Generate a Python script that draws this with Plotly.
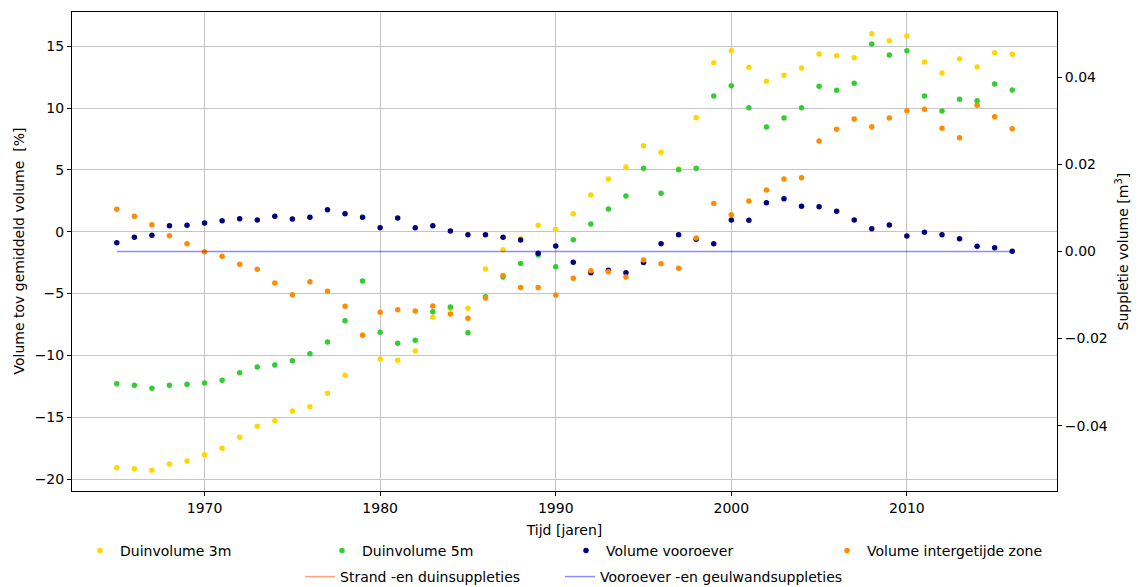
import plotly.graph_objects as go

years = [1965, 1966, 1967, 1968, 1969, 1970, 1971, 1972, 1973, 1974, 1975, 1976, 1977,
         1978, 1979, 1980, 1981, 1982, 1983, 1984, 1985, 1986, 1987, 1988, 1989, 1990,
         1991, 1992, 1993, 1994, 1995, 1996, 1997, 1998, 1999, 2000, 2001, 2002, 2003,
         2004, 2005, 2006, 2007, 2008, 2009, 2010, 2011, 2012, 2013, 2014, 2015, 2016]

duinvolume_3m = [-19.08, -19.16, -19.29, -18.78, -18.54, -18.03, -17.51, -16.62, -15.73, -15.28,
                 -14.49, -14.15, -13.06, -11.60, -8.35, -10.29, -10.40, -9.64, -6.92, -6.20,
                 -6.19, -3.02, -1.45, -0.54, 0.52, 0.19, 1.46, 2.97, 4.26, 5.23,
                 6.95, 6.42, 5.07, 9.22, 13.66, 14.63, 13.29, 12.16, 12.64, 13.23,
                 14.37, 14.23, 14.07, 16.01, 15.44, 15.82, 13.72, 12.83, 13.96, 13.31,
                 14.47, 14.34]

duinvolume_5m = [-12.29, -12.42, -12.66, -12.42, -12.34, -12.23, -12.01, -11.40, -10.94, -10.78,
                 -10.43, -9.86, -8.92, -7.19, -3.99, -8.13, -9.02, -8.78, -6.47, -6.09,
                 -8.16, -5.25, -3.66, -2.56, -1.88, -2.83, -0.65, 0.62, 1.84, 2.89,
                 5.12, 3.10, 5.00, 5.12, 10.97, 11.80, 10.02, 8.46, 9.19, 10.02,
                 11.75, 11.43, 12.00, 15.17, 14.28, 14.63, 10.97, 9.76, 10.70, 10.59,
                 11.94, 11.46]

volume_vooroever = [-0.89, -0.45, -0.29, 0.49, 0.52, 0.70, 0.89, 1.05, 0.95, 1.24,
                    1.03, 1.16, 1.78, 1.46, 1.16, 0.32, 1.11, 0.32, 0.49, 0.06,
                    -0.24, -0.24, -0.45, -0.67, -1.75, -1.16, -2.47, -3.31, -3.12, -3.31,
                    -2.48, -0.97, -0.24, -0.60, -0.97, 0.95, 0.92, 2.34, 2.67, 2.05,
                    2.02, 1.65, 0.95, 0.24, 0.54, -0.35, -0.05, -0.24, -0.57, -1.18,
                    -1.29, -1.58]

volume_intergetijde = [1.81, 1.24, 0.57, -0.32, -0.97, -1.62, -1.99, -2.64, -3.04, -4.15,
                       -5.09, -4.04, -4.82, -6.03, -8.38, -6.52, -6.30, -6.41, -6.01, -6.65,
                       -7.00, -5.36, -3.53, -4.52, -4.52, -5.12, -3.77, -3.15, -3.23, -3.66,
                       -2.29, -2.59, -2.96, -0.50, 2.29, 1.37, 2.48, 3.37, 4.26, 4.37,
                       7.33, 8.28, 9.11, 8.49, 9.19, 9.78, 9.89, 8.36, 7.60, 10.22,
                       9.30, 8.33]

# Suppletie volumes (right axis); no beach/dune nourishment values are drawn
strand_years = [1965, 2016]
strand_suppleties = [None, None]
vooroever_years = [1965, 2016]
vooroever_suppleties = [0.0, 0.0]

FONT = "DejaVu Sans"
# the page body adds an 8 px offset, so the figure is 8 px smaller than the window
OFF = 8
W, H = 1141 - OFF, 587 - OFF

fig = go.Figure()

scatter_series = [
    ("Duinvolume 3m", duinvolume_3m, "#FFD700", "legend"),
    ("Duinvolume 5m", duinvolume_5m, "#32CD32", "legend2"),
    ("Volume vooroever", volume_vooroever, "#000080", "legend3"),
    ("Volume intergetijde zone", volume_intergetijde, "#FF8C00", "legend4"),
]
for name, vals, col, leg in scatter_series:
    fig.add_trace(go.Scatter(x=years, y=vals, mode="markers", name=name,
                             marker=dict(color=col, size=5.5, line=dict(width=0)),
                             legend=leg, showlegend=True))

fig.add_trace(go.Scatter(x=strand_years, y=strand_suppleties, mode="lines",
                         name="Strand -en duinsuppleties", yaxis="y2",
                         line=dict(color="rgba(255,69,0,0.5)", width=1.5),
                         legend="legend5", showlegend=True))
fig.add_trace(go.Scatter(x=vooroever_years, y=vooroever_suppleties, mode="lines",
                         name="Vooroever -en geulwandsuppleties", yaxis="y2",
                         line=dict(color="rgba(0,0,255,0.45)", width=1.5),
                         legend="legend6", showlegend=True))

def leg(xpx, ypx):
    return dict(x=(xpx - OFF) / W, y=1 - (ypx - OFF) / H, xref="container", yref="container",
                xanchor="left", yanchor="middle", bgcolor="rgba(0,0,0,0)", visible=True,
                font=dict(family=FONT, size=14, color="#000"), itemsizing="trace")

fig.update_layout(
    width=W, height=H,
    showlegend=True,
    paper_bgcolor="white", plot_bgcolor="white",
    margin=dict(l=72 - OFF, r=84, t=12 - OFF, b=96, autoexpand=False),
    font=dict(family=FONT, size=14, color="#000"),
    xaxis=dict(range=[1962.45, 2018.55], tick0=1970, dtick=10,
               showgrid=True, gridcolor="#c4c4c4", gridwidth=1.2,
               showline=True, linecolor="#000", linewidth=1, mirror=True,
               ticks="outside", ticklen=4, tickcolor="#000", zeroline=False,
               title=dict(text="Tijd [jaren]", standoff=10, font=dict(size=14))),
    yaxis=dict(range=[-20.96, 17.76], tick0=0, dtick=5,
               showgrid=True, gridcolor="#c4c4c4", gridwidth=1.2,
               showline=True, linecolor="#000", linewidth=1, mirror=True,
               ticks="outside", ticklen=4, tickcolor="#000", zeroline=False),
    yaxis2=dict(range=[-0.055, 0.055], tick0=0, dtick=0.02, tickformat=".2f",
                overlaying="y", side="right", showgrid=False, zeroline=False,
                showline=True, linecolor="#000", linewidth=1,
                ticks="outside", ticklen=4, tickcolor="#000"),
    legend=leg(80, 551),
    legend2=leg(322, 551),
    legend3=leg(566, 551),
    legend4=leg(827, 551),
    legend5=leg(300, 577),
    legend6=leg(560, 577),
    annotations=[
        dict(text="Volume tov gemiddeld volume \u00a0[%]", textangle=-90,
             xref="paper", yref="paper", x=0, y=0.5, xanchor="center", yanchor="middle",
             xshift=18 - 72, showarrow=False, font=dict(family=FONT, size=14, color="#000")),
        dict(text="Suppletie volume [m<sup>3</sup>]", textangle=-90,
             xref="paper", yref="paper", x=1, y=0.5, xanchor="center", yanchor="middle",
             xshift=1122 - 1057, showarrow=False, font=dict(family=FONT, size=14, color="#000")),
    ],
)

fig.write_html("out.html")
